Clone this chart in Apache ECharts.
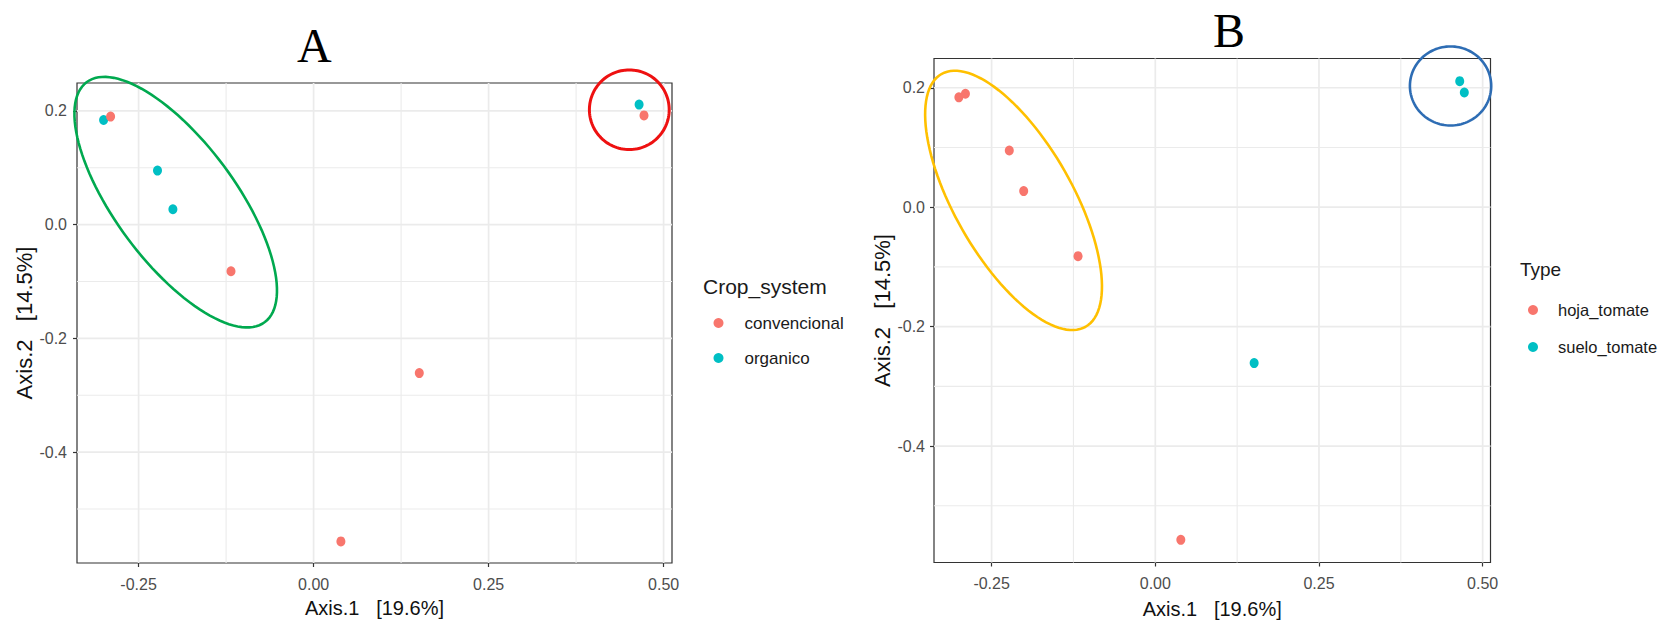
<!DOCTYPE html>
<html>
<head>
<meta charset="utf-8">
<script src="https://cdn.jsdelivr.net/npm/echarts@6/dist/echarts.min.js"></script>
<style>
  html, body { margin: 0; padding: 0; background: #ffffff; }
  #chart { width: 1661px; height: 624px; }
</style>
</head>
<body>
<div id="chart"></div>
<script>
// PCoA sample scores on the first two axes
const sampleAxis1 = [-0.300, -0.290, -0.223, -0.201, -0.118, 0.151, 0.039, 0.465, 0.472];
const sampleAxis2 = [0.184, 0.190, 0.095, 0.027, -0.082, -0.261, -0.557, 0.211, 0.192];

// Grouping variables for each sample
const cropSystem = ['organico', 'convencional', 'organico', 'organico', 'convencional',
                    'convencional', 'convencional', 'organico', 'convencional'];
const sampleType = ['hoja_tomate', 'hoja_tomate', 'hoja_tomate', 'hoja_tomate', 'hoja_tomate',
                    'suelo_tomate', 'hoja_tomate', 'suelo_tomate', 'suelo_tomate'];

const cropLevels = ['convencional', 'organico'];
const typeLevels = ['hoja_tomate', 'suelo_tomate'];

// Axis ticks and grid lines
const xTicks = [-0.25, 0, 0.25, 0.5];
const xMinor = [-0.125, 0.125, 0.375];
const yTicks = [-0.4, -0.2, 0, 0.2];
const yMinor = [-0.5, -0.3, -0.1, 0.1];
const xRange = [-0.338, 0.512];
const yRange = [-0.595, 0.249];

const axis1Title = 'Axis.1   [19.6%]';
const axis2Title = 'Axis.2   [14.5%]';

// Group outlines (centre and two semi-axis vectors, in axis units)
const outlinesA = [
  { c: [-0.197, 0.0395], u: [0.1274, -0.2108], v: [-0.0686, -0.0639], color: '#00a94f', width: 2.6 },
  { c: [0.451, 0.202], u: [0.057, 0], v: [0, 0.0700], color: '#ee1111', width: 3 }
];
const outlinesB = [
  { c: [-0.2165, 0.0114], u: [0.1101, -0.2116], v: [-0.0782, -0.0490], color: '#ffc000', width: 2.6 },
  { c: [0.451, 0.203], u: [0.0621, 0], v: [0, 0.0662], color: '#2e6db4', width: 2.6 }
];

const SANS = "'Liberation Sans', Arial, Helvetica, sans-serif";
const SERIF = "'Liberation Serif', 'Times New Roman', serif";
const PALETTE = ['#F8766D', '#00BFC4'];

function xAxisCfg(gridIndex, nameGap, labelMargin) {
  return {
    type: 'value', gridIndex, position: 'bottom', min: xRange[0], max: xRange[1],
    name: axis1Title, nameLocation: 'middle', nameGap,
    nameTextStyle: { fontFamily: SANS, fontSize: 20, color: '#111111' },
    axisLine: { show: false, onZero: false },
    axisTick: { show: true, customValues: xTicks, length: 4, lineStyle: { color: '#333333', width: 1.2 } },
    axisLabel: { customValues: xTicks, formatter: v => v.toFixed(2), margin: labelMargin,
                 color: '#4d4d4d', fontSize: 16, fontFamily: SANS },
    splitLine: { show: false }
  };
}

function yAxisCfg(gridIndex, nameGap, labelMargin) {
  return {
    type: 'value', gridIndex, position: 'left', min: yRange[0], max: yRange[1],
    name: axis2Title, nameLocation: 'middle', nameGap,
    nameTextStyle: { fontFamily: SANS, fontSize: 22, color: '#111111' },
    axisLine: { show: false, onZero: false },
    axisTick: { show: true, customValues: yTicks, length: 4, lineStyle: { color: '#333333', width: 1.2 } },
    axisLabel: { customValues: yTicks, formatter: v => v.toFixed(1), margin: labelMargin,
                 color: '#4d4d4d', fontSize: 16, fontFamily: SANS },
    splitLine: { show: false }
  };
}

// Major and minor panel grid lines drawn through the axis scales
function gridLineSeries(gridIndex) {
  const lines = [];
  xTicks.forEach(v => lines.push({ dir: 'x', v, major: true }));
  xMinor.forEach(v => lines.push({ dir: 'x', v, major: false }));
  yTicks.forEach(v => lines.push({ dir: 'y', v, major: true }));
  yMinor.forEach(v => lines.push({ dir: 'y', v, major: false }));
  return {
    type: 'custom', xAxisIndex: gridIndex, yAxisIndex: gridIndex, silent: true, z: 1,
    data: lines.map(l => (l.dir === 'x' ? [l.v, yRange[0]] : [xRange[0], l.v])),
    renderItem(params, api) {
      const l = lines[params.dataIndex];
      const a = l.dir === 'x' ? api.coord([l.v, yRange[0]]) : api.coord([xRange[0], l.v]);
      const b = l.dir === 'x' ? api.coord([l.v, yRange[1]]) : api.coord([xRange[1], l.v]);
      return {
        type: 'line',
        shape: { x1: a[0], y1: a[1], x2: b[0], y2: b[1] },
        style: { stroke: '#ebebeb', lineWidth: l.major ? 1.7 : 1.1 }
      };
    }
  };
}

// Group outlines around the clusters of samples
function outlineSeries(gridIndex, shapes) {
  return {
    type: 'custom', xAxisIndex: gridIndex, yAxisIndex: gridIndex, silent: true, z: 5, clip: false,
    data: shapes.map(s => s.c),
    renderItem(params, api) {
      const s = shapes[params.dataIndex];
      const pts = [];
      const n = 120;
      for (let k = 0; k < n; k++) {
        const t = k / n * Math.PI * 2;
        pts.push(api.coord([
          s.c[0] + s.u[0] * Math.cos(t) + s.v[0] * Math.sin(t),
          s.c[1] + s.u[1] * Math.cos(t) + s.v[1] * Math.sin(t)
        ]));
      }
      return { type: 'polygon', shape: { points: pts }, style: { fill: 'none', stroke: s.color, lineWidth: s.width } };
    }
  };
}

function scatterSeries(name, gridIndex, groups, color) {
  const pts = [];
  sampleAxis1.forEach((x, i) => { if (groups[i] === name) pts.push([x, sampleAxis2[i]]); });
  return {
    type: 'scatter', name, xAxisIndex: gridIndex, yAxisIndex: gridIndex, data: pts,
    symbol: 'circle', symbolSize: [9, 10], z: 3,
    itemStyle: { color, opacity: 1 },
    emphasis: { disabled: true }
  };
}

// Key with a small dot and the level name set further to the right
function legendCfg(levels, left, top, gap, fontSize, textIndent) {
  return {
    data: levels, orient: 'vertical', left, top, icon: 'circle',
    itemWidth: 10, itemHeight: 10, itemGap: gap, padding: 0, selectedMode: false,
    textStyle: { fontFamily: SANS, fontSize, color: '#1a1a1a', lineHeight: 20, padding: [0, 0, 0, textIndent] }
  };
}

const chart = echarts.init(document.getElementById('chart'), null, { renderer: 'svg' });
chart.setOption({
  animation: false,
  backgroundColor: '#ffffff',
  title: [
    { text: 'A', left: 297, top: 21, padding: 0,
      textStyle: { fontFamily: SERIF, fontSize: 48, fontWeight: 'normal', color: '#000000' } },
    { text: 'B', left: 1213, top: 6, padding: 0,
      textStyle: { fontFamily: SERIF, fontSize: 48, fontWeight: 'normal', color: '#000000' } },
    { text: 'Crop_system', left: 703, top: 276, padding: 0,
      textStyle: { fontFamily: SANS, fontSize: 21, fontWeight: 'normal', color: '#1a1a1a' } },
    { text: 'Type', left: 1520, top: 260, padding: 0,
      textStyle: { fontFamily: SANS, fontSize: 19, fontWeight: 'normal', color: '#1a1a1a' } }
  ],
  legend: [
    legendCfg(cropLevels, 713.5, 313, 15, 17, 16),
    legendCfg(typeLevels, 1528, 300, 17, 16.5, 15)
  ],
  grid: [
    { left: 77, top: 83, width: 595, height: 480, show: true, borderColor: '#333333', borderWidth: 1.2, backgroundColor: 'transparent' },
    { left: 934, top: 58.5, width: 556.5, height: 504, show: true, borderColor: '#333333', borderWidth: 1.2, backgroundColor: 'transparent' }
  ],
  xAxis: [xAxisCfg(0, 35, 13), xAxisCfg(1, 36, 13)],
  yAxis: [yAxisCfg(0, 41, 10), yAxisCfg(1, 39, 9)],
  series: [
    gridLineSeries(0),
    gridLineSeries(1),
    scatterSeries('organico', 0, cropSystem, PALETTE[1]),
    scatterSeries('convencional', 0, cropSystem, PALETTE[0]),
    scatterSeries('suelo_tomate', 1, sampleType, PALETTE[1]),
    scatterSeries('hoja_tomate', 1, sampleType, PALETTE[0]),
    outlineSeries(0, outlinesA),
    outlineSeries(1, outlinesB)
  ]
});
</script>
</body>
</html>
